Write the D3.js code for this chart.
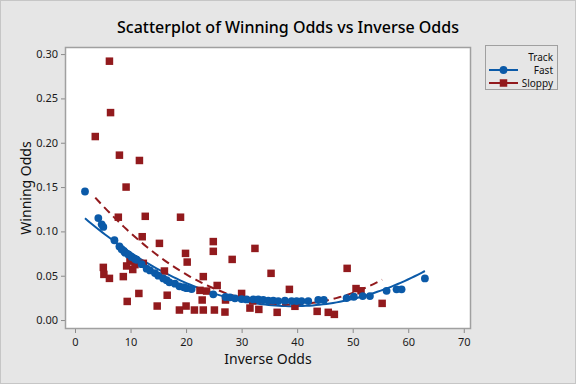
<!DOCTYPE html>
<html>
<head>
<meta charset="utf-8">
<script src="https://cdn.jsdelivr.net/npm/d3@7"></script>
<style>
  body { margin: 0; background: #e6e6e6; }
  svg { display: block; font-family: "Noto Sans", "Open Sans", sans-serif; }
</style>
</head>
<body>
<div id="chart_div"></div>
<script>
// Winning odds vs inverse odds, grouped by track condition

var fast_x = [1.8, 4.2, 4.8, 5.1, 7.1, 8.0, 8.4, 8.8, 9.0, 9.6, 10.2, 10.8, 11.1, 12.0, 12.9, 13.5, 14.4, 15.0, 15.9, 16.5,
  17.0, 18.0, 18.8, 19.6, 20.1, 21.0, 24.9, 27.1, 27.9, 28.8, 30.0, 30.9, 32.1, 33.0, 33.9, 34.8, 35.7, 36.6, 37.8, 39.0,
  39.9, 40.8, 42.0, 43.8, 44.8, 48.9, 50.2, 51.8, 53.1, 56.1, 57.9, 58.8, 63.0];
var fast_y = [0.145, 0.115, 0.108, 0.105, 0.090, 0.083, 0.080, 0.078, 0.076, 0.074, 0.071, 0.069, 0.068, 0.063, 0.058, 0.056, 0.053, 0.050, 0.047, 0.045,
  0.0425, 0.041, 0.038, 0.037, 0.036, 0.035, 0.029, 0.026, 0.0256, 0.0245, 0.0237, 0.0233, 0.0233, 0.0233, 0.0226, 0.022, 0.022, 0.0214, 0.0218, 0.0214,
  0.0214, 0.0214, 0.0214, 0.0226, 0.0226, 0.0248, 0.0263, 0.027, 0.027, 0.033, 0.0346, 0.0346, 0.047];

var sloppy_x = [6.2, 6.4, 3.65, 8.0, 11.6, 9.2, 7.8, 12.65, 19.0, 12.1, 15.2, 24.9, 24.9, 19.9, 20.2, 28.3, 32.4,
  5.1, 5.2, 6.2, 8.7, 9.9, 9.3, 10.4, 10.8, 12.3, 16.1, 23.1, 25.6, 11.5, 16.6, 22.5, 23.7, 22.9, 27.1, 30.0, 32.0,
  9.4, 14.8, 18.8, 20.0, 21.5, 23.1, 25.1, 27.0, 31.5, 33.1, 35.3, 38.6, 49.0, 50.6, 51.5, 55.3, 36.4, 39.6, 43.6, 45.6, 46.7];
var sloppy_y = [0.292, 0.234, 0.207, 0.186, 0.180, 0.150, 0.116, 0.117, 0.116, 0.094, 0.0865, 0.0885, 0.0775, 0.0752, 0.0654, 0.0684, 0.0808,
  0.0594, 0.0515, 0.047, 0.049, 0.0665, 0.061, 0.057, 0.0625, 0.064, 0.0553, 0.049, 0.039, 0.030, 0.028, 0.0335, 0.0327, 0.0226, 0.0226, 0.030, 0.0215,
  0.021, 0.0158, 0.0113, 0.0158, 0.0113, 0.0113, 0.0113, 0.009, 0.0135, 0.012, 0.0527, 0.0346, 0.0583, 0.0355, 0.033, 0.0188, 0.0087, 0.0155, 0.0098, 0.0087, 0.0064];

var x_ticks = [0, 10, 20, 30, 40, 50, 60, 70];
var y_ticks = [0, 0.05, 0.10, 0.15, 0.20, 0.25, 0.30];

var groups = ["Fast", "Sloppy"];
var colors = {"Fast": "#0b5aa8", "Sloppy": "#921a1d"};

var w = 576, h = 384;
var plot = {left: 65, top: 47, right: 471, bottom: 329};

var the_svg = d3.select("#chart_div")
  .append("svg")
    .attr("width", w)
    .attr("height", h);

the_svg.append("rect")
  .attr("x", 0.5).attr("y", 0.5)
  .attr("width", w - 1).attr("height", h - 1)
  .attr("fill", "#e6e6e6")
  .attr("stroke", "#c6c6c6");

var x = d3.scaleLinear().domain([-1.8, 71.3]).range([plot.left, plot.right]);
var y = d3.scaleLinear().domain([-0.0101, 0.308]).range([plot.bottom, plot.top]);

the_svg.append("rect")
  .attr("x", plot.left).attr("y", plot.top)
  .attr("width", plot.right - plot.left).attr("height", plot.bottom - plot.top)
  .attr("fill", "#fff");

// axes
var xAxis = the_svg.append("g")
  .attr("transform", "translate(0," + plot.bottom + ")")
  .call(d3.axisBottom(x).tickValues(x_ticks).tickSize(4).tickSizeOuter(0));
var yAxis = the_svg.append("g")
  .attr("transform", "translate(" + plot.left + ",0)")
  .call(d3.axisLeft(y).tickValues(y_ticks).tickFormat(d3.format(".2f")).tickSize(4).tickSizeOuter(0));

[xAxis, yAxis].forEach(function(a) {
  a.select(".domain").remove();
  a.selectAll("line").attr("stroke", "#8a8a8a");
  a.selectAll("text").attr("fill", "#1a1a1a").style("font-size", "11px").style("font-family", "Noto Sans, sans-serif");
});
xAxis.selectAll("text").attr("dy", "0.9em");

the_svg.append("rect")
  .attr("x", plot.left + 0.5).attr("y", plot.top + 0.5)
  .attr("width", plot.right - plot.left - 1).attr("height", plot.bottom - plot.top - 1)
  .attr("fill", "none")
  .attr("stroke", "#a0a0a0")
  .attr("stroke-width", 1.5);

// quadratic least squares fit, like the regression lines minitab adds
function quad_fit(xs, ys) {
  var S = [[0,0,0],[0,0,0],[0,0,0]], T = [0,0,0];
  for (var i = 0; i < xs.length; i++) {
    var p = [1, xs[i], xs[i]*xs[i]];
    for (var r = 0; r < 3; r++) {
      T[r] += p[r] * ys[i];
      for (var c = 0; c < 3; c++) S[r][c] += p[r] * p[c];
    }
  }
  // gaussian elimination
  for (var k = 0; k < 3; k++) {
    for (var r2 = k + 1; r2 < 3; r2++) {
      var f = S[r2][k] / S[k][k];
      for (var c2 = k; c2 < 3; c2++) S[r2][c2] -= f * S[k][c2];
      T[r2] -= f * T[k];
    }
  }
  var b = [0,0,0];
  for (var k2 = 2; k2 >= 0; k2--) {
    var s = T[k2];
    for (var j = k2 + 1; j < 3; j++) s -= S[k2][j] * b[j];
    b[k2] = s / S[k2][k2];
  }
  return b;
}

var line = d3.line().x(function(d) { return x(d[0]); }).y(function(d) { return y(d[1]); });

var series = {
  "Fast": {xs: fast_x, ys: fast_y},
  "Sloppy": {xs: sloppy_x, ys: sloppy_y}
};

groups.forEach(function(g) {
  var s = series[g];
  var b = quad_fit(s.xs, s.ys);
  var lo = d3.min(s.xs), hi = d3.max(s.xs);
  var pts = d3.range(0, 101).map(function(i) {
    var xv = lo + (hi - lo) * i / 100;
    return [xv, b[0] + b[1]*xv + b[2]*xv*xv];
  });
  the_svg.append("path")
    .datum(pts)
    .attr("d", line)
    .attr("fill", "none")
    .attr("stroke", colors[g])
    .attr("stroke-width", 2)
    .attr("stroke-dasharray", g == "Sloppy" ? "8,5" : null);
});

// markers
var fastPts = fast_x.map(function(v, i) { return [v, fast_y[i]]; });
var sloppyPts = sloppy_x.map(function(v, i) { return [v, sloppy_y[i]]; });

the_svg.append("g").selectAll("rect")
  .data(sloppyPts)
  .enter().append("rect")
    .attr("x", function(d) { return x(d[0]) - 3.75; })
    .attr("y", function(d) { return y(d[1]) - 3.75; })
    .attr("width", 7.5).attr("height", 7.5)
    .attr("fill", colors["Sloppy"]);

the_svg.append("g").selectAll("circle")
  .data(fastPts)
  .enter().append("circle")
    .attr("cx", function(d) { return x(d[0]); })
    .attr("cy", function(d) { return y(d[1]); })
    .attr("r", 3.9)
    .attr("fill", colors["Fast"]);

// titles
the_svg.append("text")
  .attr("x", 288).attr("y", 33)
  .attr("text-anchor", "middle")
  .style("font-size", "16px")
  .style("font-weight", "500")
  .attr("fill", "#000")
  .text("Scatterplot of Winning Odds vs Inverse Odds");

the_svg.append("text")
  .attr("x", 268).attr("y", 364)
  .attr("text-anchor", "middle")
  .style("font-size", "14px")
  .attr("fill", "#111")
  .text("Inverse Odds");

the_svg.append("text")
  .attr("transform", "translate(31,188) rotate(-90)")
  .attr("text-anchor", "middle")
  .style("font-size", "14px")
  .attr("fill", "#111")
  .text("Winning Odds");

// legend
var lg = the_svg.append("g");
lg.append("rect")
  .attr("x", 485.5).attr("y", 45.5)
  .attr("width", 72).attr("height", 44)
  .attr("fill", "#e6e6e6")
  .attr("stroke", "#a0a0a0");
lg.append("text")
  .attr("x", 553).attr("y", 60.5)
  .attr("text-anchor", "end")
  .style("font-size", "10px")
  .attr("fill", "#111")
  .text("Track");
groups.forEach(function(g, i) {
  var yy = 70 + i * 13;
  lg.append("line")
    .attr("x1", 489).attr("x2", 518)
    .attr("y1", yy).attr("y2", yy)
    .attr("stroke", colors[g])
    .attr("stroke-width", 2);
  if (g == "Fast") {
    lg.append("circle").attr("cx", 503.5).attr("cy", yy).attr("r", 3.9).attr("fill", colors[g]);
  } else {
    lg.append("rect").attr("x", 499.75).attr("y", yy - 3.75).attr("width", 7.5).attr("height", 7.5).attr("fill", colors[g]);
  }
  lg.append("text")
    .attr("x", 553).attr("y", yy + 3.5)
    .attr("text-anchor", "end")
    .style("font-size", "10px")
    .attr("fill", "#111")
    .text(g);
});
</script>
</body>
</html>
